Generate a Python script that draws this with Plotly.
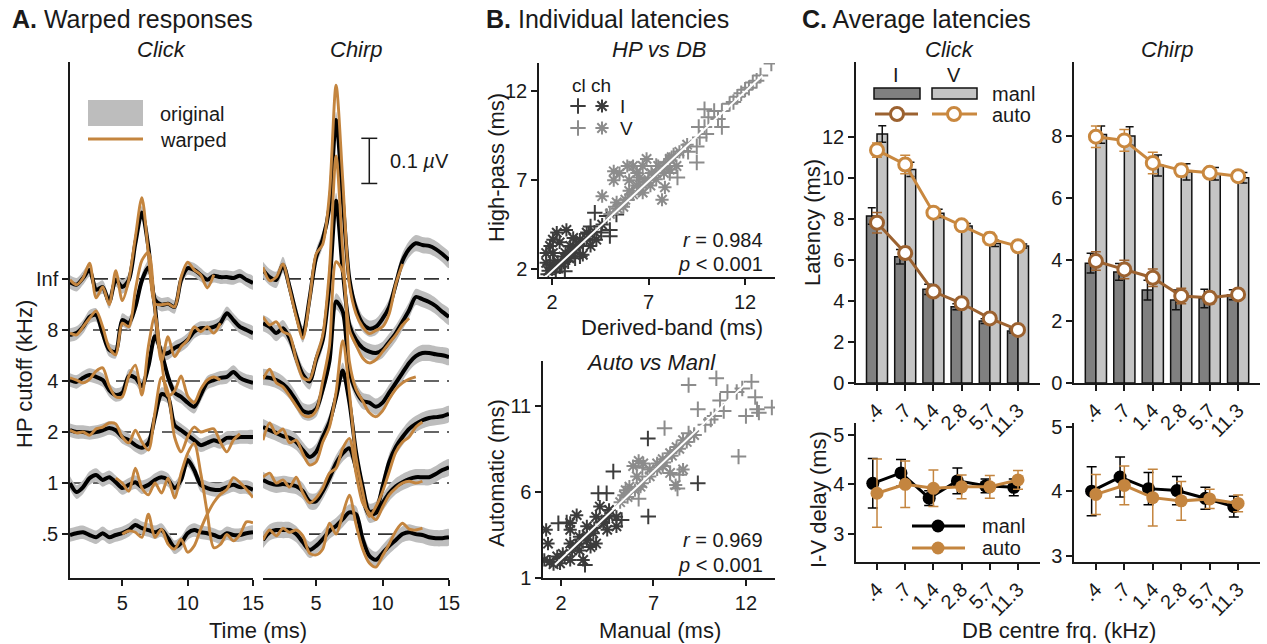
import plotly.graph_objects as go

W, H = 1267, 644
FONT = "Liberation Sans, Arial, Helvetica, sans-serif"
INK = "#1a1a1a"
ORANGE = "#c4853f"
BAND = "#bdbdbd"
DARK = "#3c3c3c"
LIGHT = "#8c8c8c"
BAR_I = "#808080"
BAR_V = "#c4c4c4"
AUTO_I = "#9c6230"
AUTO_V = "#c9883f"

# ---------------- Panel A data (amplitudes in nV) ----------------
TIME_MS = [1, 1.5, 2, 2.5, 3, 3.5, 4, 4.5, 5, 5.5, 6, 6.5, 7, 7.5, 8, 8.5,
           9, 9.5, 10, 10.5, 11, 11.5, 12, 12.5, 13, 13.5, 14, 14.5, 15]
HP_LEVELS = [".5", "1", "2", "4", "8", "Inf"]
NV_PER_LEVEL = 113.0
SCALE_BAR_NV = 100
CLICK_SEM_NV = 15
CHIRP_SEM_NV = 18

CLICK_INF_ORIG = [-7, -13, 2, 20, -24, -18, -51, -2, -18, -2, 79, 147, 70, -46, -57, -55, -62, -2, 24, 20, 9, -2, 7, 4, 4, 2, 7, -2, -9]
CLICK_INF_WARP = [-2, -13, 2, 35, -42, -18, -57, 18, -48, -2, 92, 180, 55, -55, -57, -55, -62, 4, 37, 20, 9, -20, 9]
CLICK_8_ORIG = [-11, -7, 7, 29, 33, -7, -44, -48, 22, 15, 51, 110, 139, 51, -51, -51, -40, -33, -22, -4, 4, 4, 7, 15, 37, 22, 7, 0, -7]
CLICK_8_WARP = [-7, -11, 7, 26, 42, 7, -40, -55, 15, 7, 88, 154, 172, 44, -70, -15, -59, -37, -22, 7, -4, 7, -7, 15]
CLICK_4_ORIG = [2, -2, 7, 13, 9, 2, -20, -31, -26, 11, 7, -11, 33, 99, 62, 9, -26, -35, -48, -57, -31, -4, 2, 7, 9, 20, 7, 0, -4]
CLICK_4_WARP = [7, 2, -4, 4, 22, 29, -11, -35, -35, 11, 35, -31, 77, 145, 44, -33, -22, 11, -33, -48, -18, 2, 9, 2]
CLICK_2_ORIG = [4, 0, 0, -2, 0, 4, 9, 4, -11, -18, -29, -35, -24, 33, 84, 77, 15, 4, -7, -18, -29, -24, -18, -22, -13, -13, -11, -11, -11]
CLICK_2_WARP = [4, -2, 0, -7, 7, 11, 20, 18, -11, -24, 4, -22, -40, 44, 121, 88, -11, -44, -11, 11, 0, 4, 7, -22, -44, -18, -4]
CLICK_1_ORIG = [0, -20, -9, 11, 18, 7, 13, 2, -11, -4, 2, -9, -4, 7, 13, 7, -11, 7, 51, 29, -4, -11, -15, -15, -9, -4, -9, -9, -15]
CLICK_1_WARP = [None] * 7 + [11, 0, -18, 33, -11, -26, 0, -22, 11, -33, 22, 66, 88, 22, -66, -143, -136, -114, -128, -114, -86, -88]
CLICK_05_ORIG = [-2, 2, 4, -2, -7, 2, -7, -2, 2, 9, 20, 13, 9, 4, 9, -9, -29, -20, 2, 9, 4, 2, -2, -7, 2, -2, -2, 2, 4]
CLICK_05_WARP = [None] * 8 + [0, 7, 4, -7, 44, -7, 11, -22, -33, -11, -40, -26, 11, 44, 70, 88, 99, 125, 114, 99, 81]

CHIRP_INF_ORIG = [20, 4, -2, 31, -18, -77, -123, -44, 48, 88, 158, 352, 176, 0, -66, -99, -110, -106, -88, -62, -11, 40, 66, 79, 75, 73, 66, 55, 42]
CHIRP_INF_WARP = [26, -4, 4, 33, -22, -84, -132, -48, 55, 77, 187, 429, 220, -11, -77, -106, -121, -114, -106, -77, -11, 33]
CHIRP_8_ORIG = [15, 7, -7, 4, -18, -62, -99, -114, -66, -22, 99, 286, 132, 11, -22, -40, -48, -51, -44, -26, -7, 18, 44, 73, 68, 62, 53, 40, 29]
CHIRP_8_WARP = [29, 11, 18, -4, -11, -66, -106, -110, -62, -11, 132, 385, 176, 0, -33, -62, -73, -66, -48, -29, -11, 11, 26]
CHIRP_4_ORIG = [9, 7, 2, -7, -22, -44, -66, -70, -62, -18, 44, 176, 154, 22, -22, -44, -48, -57, -48, -26, -4, 18, 40, 55, 62, 62, 59, 57, 53]
CHIRP_4_WARP = [4, 26, -4, -13, -33, -55, -75, -79, -66, 0, 77, 264, 242, 44, -18, -44, -70, -79, -66, -40, -18, -4, 4, 9]
CHIRP_2_ORIG = [11, 4, -2, -9, -13, -22, -40, -55, -44, -11, 22, 77, 136, 66, -44, -121, -176, -172, -121, -66, -33, -11, 7, 18, 26, 31, 33, 35, 40]
CHIRP_2_WARP = [-18, 20, -4, 7, -24, -18, -48, -73, -66, -22, 11, 88, 202, 88, -55, -132, -187, -165, -132, -88, -44, -22, -11, 11, 22]
CHIRP_1_ORIG = [7, 0, -4, -2, -4, -7, -18, -40, -40, -18, 11, 44, 66, 77, 33, -33, -70, -66, -44, -22, -7, 2, 9, 13, 13, 13, 20, 29, 35]
CHIRP_1_WARP = [13, 22, 0, 7, -9, 13, -22, -44, -33, -11, 22, 33, 77, 99, 22, -44, -66, -81, -53, -26, -11, 0, 4, 0, 4]
CHIRP_05_ORIG = [-13, 4, 9, 9, 9, 0, -18, -35, -26, -11, 7, 18, 33, 48, 44, -11, -48, -57, -42, -26, -13, 0, 4, 0, -2, -7, -9, -9, -7]
CHIRP_05_WARP = [-13, 9, -4, 13, 4, 9, -4, -42, -46, -33, 24, 0, 44, 86, 22, -33, -64, -73, -48, -22, 7, 24, 11, 9, 13]

# ---------------- Panel B data (ms) ----------------
HPDB_I_CLICK = [(4.22, 5.17), (5.0, 4.2), (5.0, 3.85), (4.83, 4.98), (5.34, 5.07), (2.41, 2.15), (2.84, 2.43),
                (1.9, 2.25), (2.67, 1.87), (3.45, 2.72), (3.6, 3.3), (4.1, 3.65), (4.55, 4.05), (3.9, 4.0),
                (2.2, 1.8), (3.2, 2.6), (2.6, 2.4), (4.0, 4.4), (1.8, 1.7), (2.1, 2.5)]
HPDB_I_CHIRP = [(2.25, 4.05), (2.75, 4.2), (3.1, 3.75), (1.9, 3.3), (1.7, 2.9), (2.05, 2.9), (2.4, 3.5), (2.95, 3.3),
                (3.45, 3.65), (3.8, 4.05), (2.6, 2.7), (3.1, 2.9), (3.6, 2.8), (4.0, 3.3), (1.7, 2.35), (2.25, 2.15),
                (4.3, 3.65), (3.25, 3.2), (2.05, 3.65), (2.0, 2.0), (2.3, 2.4), (2.7, 2.9), (3.0, 3.0), (3.4, 3.4),
                (3.8, 3.7), (4.2, 4.1), (4.6, 4.5), (1.8, 1.9), (2.5, 2.3), (2.9, 2.6)]
HPDB_V_CLICK = [(13.36, 13.57), (9.9, 11.0), (10.1, 10.55), (10.4, 10.9), (10.6, 10.45), (10.8, 10.0), (9.9, 10.0),
                (9.6, 10.0), (10.0, 9.6), (9.65, 9.4), (9.5, 8.9), (9.05, 8.6), (9.5, 8.0), (8.5, 7.15), (8.1, 7.4),
                (8.8, 8.65), (8.3, 8.4), (7.9, 8.0), (7.4, 7.8), (10.8, 10.9), (11.2, 11.3), (11.6, 11.7),
                (12.0, 12.1), (12.4, 12.5), (12.8, 12.9), (11.4, 11.4), (11.8, 11.9), (12.2, 12.2), (12.6, 12.6),
                (5.3, 5.5), (5.9, 5.9), (6.5, 6.6), (7.0, 7.1)]
HPDB_V_CHIRP = [(5.2, 7.5), (5.5, 7.4), (5.2, 7.0), (4.6, 6.1), (5.9, 7.8), (6.2, 7.8), (6.7, 7.8), (6.4, 7.4),
                (6.0, 7.0), (6.4, 6.7), (6.7, 6.3), (7.1, 6.7), (7.4, 7.05), (7.8, 7.4), (8.1, 7.6), (7.7, 5.9),
                (7.85, 6.6), (5.7, 5.5), (5.35, 5.75), (6.55, 7.15), (7.15, 7.4), (7.5, 7.8), (6.9, 8.2), (8.1, 8.2),
                (8.45, 7.8), (5.0, 5.1), (5.4, 5.4), (5.8, 5.9), (6.2, 6.2), (6.6, 6.6), (7.0, 7.0), (7.4, 7.4),
                (7.8, 7.8), (8.2, 8.3), (8.6, 8.6), (9.0, 9.0), (6.0, 6.4), (6.8, 6.9)]
HPDB_FIT = (1.01, -0.13, 1.64, 12.9)   # slope, intercept, x from, x to
HPDB_STATS = ("0.984", "0.001")

AM_I_CLICK = [(2.31, 4.22), (1.86, 4.18), (4.02, 5.92), (4.47, 5.92), (4.83, 7.18), (3.3, 1.76), (5.28, 4.37),
              (6.72, 4.57), (6.7, 9.1), (9.4, 6.5)]
AM_I_CHIRP = [(1.2, 3.8), (1.3, 3.0), (1.1, 2.05), (1.4, 1.95), (1.95, 1.85), (2.5, 2.05), (2.1, 2.4), (2.5, 4.2),
              (2.85, 4.65), (2.5, 3.8), (3.0, 3.4), (3.4, 4.0), (3.75, 3.6), (3.9, 4.55), (4.3, 4.2), (3.6, 2.8),
              (3.9, 3.0), (3.0, 2.6), (2.5, 3.0), (3.4, 3.2), (4.6, 4.95), (5.0, 4.0), (5.0, 4.55), (4.1, 5.15),
              (3.2, 2.05), (1.8, 2.25), (4.5, 3.8), (2.2, 2.2), (2.6, 2.6), (3.0, 3.0), (3.4, 3.5), (3.8, 3.9),
              (4.2, 4.3), (4.6, 4.6), (1.6, 1.8), (2.8, 2.9)]
AM_V_CLICK = [(6.2, 5.6), (6.4, 7.4), (7.6, 9.7), (8.9, 12.2), (10.4, 12.6), (9.4, 10.8), (8.9, 9.4), (8.3, 6.2),
              (8.4, 7.0), (11.6, 8.05), (12.0, 10.4), (12.6, 10.8), (12.5, 11.5), (13.4, 10.9), (12.7, 10.6),
              (11.0, 11.8), (10.6, 11.3), (10.8, 10.7), (11.5, 11.8), (10.1, 10.2), (7.9, 7.1), (12.3, 12.4),
              (11.8, 12.0), (9.8, 9.9), (10.3, 10.4), (9.2, 9.3)]
AM_V_CHIRP = [(5.4, 5.8), (5.7, 6.3), (6.1, 6.9), (5.9, 7.5), (6.45, 7.65), (6.8, 7.3), (7.2, 7.65), (7.5, 7.9),
              (7.9, 8.25), (8.25, 8.6), (8.6, 9.0), (7.9, 7.1), (8.2, 6.4), (8.6, 7.3), (6.2, 7.8), (6.3, 6.3),
              (5.5, 6.1), (7.5, 7.5), (5.2, 5.4), (5.6, 5.7), (6.0, 6.1), (6.4, 6.5), (6.8, 6.9), (7.2, 7.3),
              (7.6, 7.7), (8.0, 8.1), (8.4, 8.5), (8.8, 8.9), (9.2, 9.3)]
AM_FIT = (1.02, 0.05, 1.68, 12.04)
AM_STATS = ("0.969", "0.001")

# ---------------- Panel C data (ms) ----------------
DB_FREQ_LABELS = [".4", ".7", "1.4", "2.8", "5.7", "11.3"]
BAND_IDX = [0, 1, 2, 3, 4, 5]
CLICK_MANL_I = [8.15, 6.16, 4.57, 3.72, 3.02, 2.54]
CLICK_MANL_I_ERR = [0.4, 0.35, 0.25, 0.15, 0.12, 0.1]
CLICK_MANL_V = [12.15, 10.42, 8.28, 7.66, 6.81, 6.68]
CLICK_MANL_V_ERR = [0.4, 0.35, 0.2, 0.12, 0.15, 0.1]
CLICK_AUTO_I = [7.82, 6.34, 4.46, 3.89, 3.15, 2.59]
CLICK_AUTO_I_ERR = [0.5, 0.3, 0.15, 0.12, 0.12, 0.08]
CLICK_AUTO_V = [11.36, 10.66, 8.31, 7.69, 7.04, 6.67]
CLICK_AUTO_V_ERR = [0.35, 0.45, 0.2, 0.12, 0.3, 0.1]
CHIRP_MANL_I = [3.88, 3.6, 3.01, 2.69, 2.74, 2.86]
CHIRP_MANL_I_ERR = [0.32, 0.27, 0.32, 0.32, 0.3, 0.16]
CHIRP_MANL_V = [8.05, 8.0, 7.05, 6.84, 6.78, 6.65]
CHIRP_MANL_V_ERR = [0.28, 0.3, 0.34, 0.26, 0.2, 0.17]
CHIRP_AUTO_I = [3.95, 3.68, 3.41, 2.82, 2.76, 2.87]
CHIRP_AUTO_I_ERR = [0.3, 0.3, 0.28, 0.25, 0.2, 0.1]
CHIRP_AUTO_V = [7.98, 7.86, 7.13, 6.89, 6.81, 6.7]
CHIRP_AUTO_V_ERR = [0.35, 0.35, 0.35, 0.2, 0.15, 0.1]
CLICK_DELAY_MANL = [4.02, 4.23, 3.72, 4.07, 3.97, 3.94]
CLICK_DELAY_MANL_ERR = [0.5, 0.27, 0.15, 0.26, 0.14, 0.17]
CLICK_DELAY_AUTO = [3.82, 4.0, 3.92, 3.95, 3.95, 4.09]
CLICK_DELAY_AUTO_ERR = [0.69, 0.47, 0.37, 0.24, 0.23, 0.19]
CHIRP_DELAY_MANL = [4.0, 4.22, 4.04, 4.01, 3.89, 3.76]
CHIRP_DELAY_MANL_ERR = [0.38, 0.31, 0.25, 0.22, 0.17, 0.16]
CHIRP_DELAY_AUTO = [3.95, 4.09, 3.9, 3.85, 3.88, 3.81]
CHIRP_DELAY_AUTO_ERR = [0.31, 0.3, 0.44, 0.3, 0.15, 0.13]
MANL_SHIFT = -0.15

fig = go.Figure()
N = len(TIME_MS)
G = 1.0 / NV_PER_LEVEL


def pad(a):
    a = list(a)[:N]
    return a + [None] * (N - len(a))


def add_waves(origs, warps, sem, xa, ya):
    for lvl, o in enumerate(origs):
        o = pad(o)
        up = [lvl + (v + sem) * G for v in o]
        lo = [lvl + (v - sem) * G for v in o]
        fig.add_trace(go.Scatter(x=TIME_MS + TIME_MS[::-1], y=up + lo[::-1], mode="lines",
                                 fill="toself", fillcolor=BAND, line=dict(width=0, shape="spline", smoothing=0.8),
                                 xaxis=xa, yaxis=ya, hoverinfo="skip"))
    for lvl, o in enumerate(origs):
        fig.add_trace(go.Scatter(x=TIME_MS, y=[lvl + v * G for v in pad(o)], mode="lines",
                                 line=dict(color="black", width=4, shape="spline", smoothing=0.8),
                                 xaxis=xa, yaxis=ya, hoverinfo="skip"))
    for lvl, w in enumerate(warps):
        fig.add_trace(go.Scatter(x=TIME_MS, y=[None if v is None else lvl + v * G for v in pad(w)],
                                 mode="lines", connectgaps=False,
                                 line=dict(color=ORANGE, width=2.9, shape="spline", smoothing=0.8),
                                 xaxis=xa, yaxis=ya, hoverinfo="skip"))


add_waves([CLICK_05_ORIG, CLICK_1_ORIG, CLICK_2_ORIG, CLICK_4_ORIG, CLICK_8_ORIG, CLICK_INF_ORIG],
          [CLICK_05_WARP, CLICK_1_WARP, CLICK_2_WARP, CLICK_4_WARP, CLICK_8_WARP, CLICK_INF_WARP],
          CLICK_SEM_NV, "x", "y")
add_waves([CHIRP_05_ORIG, CHIRP_1_ORIG, CHIRP_2_ORIG, CHIRP_4_ORIG, CHIRP_8_ORIG, CHIRP_INF_ORIG],
          [CHIRP_05_WARP, CHIRP_1_WARP, CHIRP_2_WARP, CHIRP_4_WARP, CHIRP_8_WARP, CHIRP_INF_WARP],
          CHIRP_SEM_NV, "x2", "y2")

shapes = []
for xa, ya in (("x", "y"), ("x2", "y2")):
    for lvl in range(len(HP_LEVELS)):
        shapes.append(dict(type="line", xref=xa, yref=ya, x0=TIME_MS[0], x1=TIME_MS[-1], y0=lvl, y1=lvl,
                           line=dict(color="#333333", width=1.6, dash="15px,8px"), layer="below"))

# scale bar (chirp axis)
sb_x, sb_y0 = 9.0, 6.87
sb_y1 = sb_y0 + SCALE_BAR_NV * G
shapes += [
    dict(type="line", xref="x2", yref="y2", x0=sb_x, x1=sb_x, y0=sb_y0, y1=sb_y1, line=dict(color=INK, width=1.5)),
    dict(type="line", xref="x2", yref="y2", x0=sb_x - 0.6, x1=sb_x + 0.6, y0=sb_y0, y1=sb_y0, line=dict(color=INK, width=1.5)),
    dict(type="line", xref="x2", yref="y2", x0=sb_x - 0.6, x1=sb_x + 0.6, y0=sb_y1, y1=sb_y1, line=dict(color=INK, width=1.5)),
]


# ---------------- Panel B ----------------
def scatter_group(pts, color, symbol, xa, ya):
    xs = [p[0] for p in pts]
    ys = [p[1] for p in pts]
    fig.add_trace(go.Scatter(x=xs, y=ys, mode="markers", xaxis=xa, yaxis=ya, hoverinfo="skip",
                             marker=dict(symbol=symbol, size=11, color=color,
                                         line=dict(color=color, width=2))))


def fit_line(fit, xa, ya):
    a, b, x0, x1 = fit
    fig.add_trace(go.Scatter(x=[x0, x1], y=[a * x0 + b, a * x1 + b], mode="lines", xaxis=xa, yaxis=ya,
                             line=dict(color="white", width=2), hoverinfo="skip"))


scatter_group(HPDB_I_CLICK, DARK, "cross-thin", "x3", "y3")
scatter_group(HPDB_I_CHIRP, DARK, "asterisk", "x3", "y3")
scatter_group(HPDB_V_CLICK, LIGHT, "cross-thin", "x3", "y3")
scatter_group(HPDB_V_CHIRP, LIGHT, "asterisk", "x3", "y3")
fit_line(HPDB_FIT, "x3", "y3")
scatter_group(AM_I_CLICK, DARK, "cross-thin", "x4", "y4")
scatter_group(AM_I_CHIRP, DARK, "asterisk", "x4", "y4")
scatter_group(AM_V_CLICK, LIGHT, "cross-thin", "x4", "y4")
scatter_group(AM_V_CHIRP, LIGHT, "asterisk", "x4", "y4")
fit_line(AM_FIT, "x4", "y4")


# ---------------- Panel C ----------------
def bars(vals, errs, color, group, xa, ya):
    fig.add_trace(go.Bar(x=BAND_IDX, y=vals, offsetgroup=group, xaxis=xa, yaxis=ya, hoverinfo="skip",
                         marker=dict(color=color, line=dict(color="#111111", width=1.5)),
                         error_y=dict(type="data", array=errs, color="#111111", thickness=1.5, width=4)))


def auto_line(vals, errs, color, xa, ya):
    fig.add_trace(go.Scatter(x=BAND_IDX, y=vals, mode="lines+markers", xaxis=xa, yaxis=ya, hoverinfo="skip",
                             line=dict(color=color, width=3),
                             marker=dict(symbol="circle", size=13, color="white", line=dict(color=color, width=3)),
                             error_y=dict(type="data", array=errs, color=color, thickness=1.5, width=5)))


def delay_line(xs, vals, errs, color, xa, ya):
    fig.add_trace(go.Scatter(x=xs, y=vals, mode="lines+markers", xaxis=xa, yaxis=ya, hoverinfo="skip",
                             line=dict(color=color, width=3),
                             marker=dict(symbol="circle", size=13, color=color),
                             error_y=dict(type="data", array=errs, color=color, thickness=1.5, width=5)))


bars(CLICK_MANL_I, CLICK_MANL_I_ERR, BAR_I, "I", "x5", "y5")
bars(CLICK_MANL_V, CLICK_MANL_V_ERR, BAR_V, "V", "x5", "y5")
auto_line(CLICK_AUTO_I, CLICK_AUTO_I_ERR, AUTO_I, "x5", "y5")
auto_line(CLICK_AUTO_V, CLICK_AUTO_V_ERR, AUTO_V, "x5", "y5")
bars(CHIRP_MANL_I, CHIRP_MANL_I_ERR, BAR_I, "I", "x6", "y6")
bars(CHIRP_MANL_V, CHIRP_MANL_V_ERR, BAR_V, "V", "x6", "y6")
auto_line(CHIRP_AUTO_I, CHIRP_AUTO_I_ERR, AUTO_I, "x6", "y6")
auto_line(CHIRP_AUTO_V, CHIRP_AUTO_V_ERR, AUTO_V, "x6", "y6")
shifted = [i + MANL_SHIFT for i in BAND_IDX]
delay_line(shifted, CLICK_DELAY_MANL, CLICK_DELAY_MANL_ERR, "black", "x7", "y7")
delay_line(BAND_IDX, CLICK_DELAY_AUTO, CLICK_DELAY_AUTO_ERR, ORANGE, "x7", "y7")
delay_line(shifted, CHIRP_DELAY_MANL, CHIRP_DELAY_MANL_ERR, "black", "x8", "y8")
delay_line(BAND_IDX, CHIRP_DELAY_AUTO, CHIRP_DELAY_AUTO_ERR, ORANGE, "x8", "y8")

# ---------------- legend glyphs on a pixel overlay ----------------
def ov_line(x0, x1, y, color, width):
    fig.add_trace(go.Scatter(x=[x0, x1], y=[y, y], mode="lines", xaxis="x9", yaxis="y9",
                             line=dict(color=color, width=width), hoverinfo="skip"))


def ov_marker(x, y, symbol, color, fill, size=13, lw=3):
    fig.add_trace(go.Scatter(x=[x], y=[y], mode="markers", xaxis="x9", yaxis="y9", hoverinfo="skip",
                             marker=dict(symbol=symbol, size=size, color=fill, line=dict(color=color, width=lw))))


shapes.append(dict(type="rect", xref="x9", yref="y9", x0=88, x1=143, y0=100, y1=126,
                   fillcolor=BAND, line=dict(width=0), layer="above"))
ov_line(88, 143, 113, "black", 4)
ov_line(88, 143, 139, ORANGE, 3)

shapes.append(dict(type="rect", xref="x9", yref="y9", x0=874, x1=920, y0=88, y1=99,
                   fillcolor=BAR_I, line=dict(color="#111111", width=1.5), layer="above"))
shapes.append(dict(type="rect", xref="x9", yref="y9", x0=932, x1=977, y0=88, y1=99,
                   fillcolor=BAR_V, line=dict(color="#111111", width=1.5), layer="above"))
ov_line(875, 918, 114, AUTO_I, 3)
ov_marker(897, 114, "circle", AUTO_I, "white")
ov_line(932, 977, 114, AUTO_V, 3)
ov_marker(954, 114, "circle", AUTO_V, "white")

ov_line(912, 965, 526, "black", 3)
ov_marker(938, 526, "circle", "black", "black", lw=0)
ov_line(912, 965, 548, ORANGE, 3)
ov_marker(938, 548, "circle", ORANGE, ORANGE, lw=0)

ov_marker(578, 106, "cross-thin", DARK, DARK, size=11, lw=2)
ov_marker(602, 106, "asterisk", DARK, DARK, size=11, lw=2)
ov_marker(578, 128, "cross-thin", LIGHT, LIGHT, size=11, lw=2)
ov_marker(602, 128, "asterisk", LIGHT, LIGHT, size=11, lw=2)

# ---------------- annotations ----------------
ann = []


def txt(x, y, s, size=20, xanchor="center", angle=0, color=INK):
    ann.append(dict(xref="x9", yref="y9", x=x, y=y, text=s, showarrow=False, xanchor=xanchor,
                    yanchor="middle", textangle=angle, font=dict(size=size, color=color, family=FONT)))


txt(10, 19, "<b>A.</b> Warped responses", 25, "left")
txt(484, 19, "<b>B.</b> Individual latencies", 25, "left")
txt(800, 19, "<b>C.</b> Average latencies", 25, "left")
txt(161, 49, "<i>Click</i>", 22)
txt(356, 49, "<i>Chirp</i>", 22)
txt(659, 49, "<i>HP vs DB</i>", 22)
txt(651, 362, "<i>Auto vs Manl</i>", 22)
txt(949, 49, "<i>Click</i>", 22)
txt(1167, 49, "<i>Chirp</i>", 22)
txt(24, 374, "HP cutoff (kHz)", 22, angle=-90)
txt(258, 630, "Time (ms)", 22)
txt(496, 168, "High-pass (ms)", 22, angle=-90)
txt(672, 327, "Derived-band (ms)", 22)
txt(496, 473, "Automatic (ms)", 22, angle=-90)
txt(660, 630, "Manual (ms)", 22)
txt(812, 223, "Latency (ms)", 22, angle=-90)
txt(818, 500, "I-V delay (ms)", 22, angle=-90)
txt(1059, 630, "DB centre frq. (kHz)", 22)
txt(158, 114, "original", 20, "left")
txt(158, 140, "warped", 20, "left")
txt(570, 85, "cl ch", 19, "left")
txt(618, 106, "I", 19, "left")
txt(618, 128, "V", 19, "left")
txt(765, 240, "<i>r</i> = " + HPDB_STATS[0], 20, "right")
txt(765, 264, "<i>p</i> &lt; " + HPDB_STATS[1], 20, "right")
txt(765, 540, "<i>r</i> = " + AM_STATS[0], 20, "right")
txt(765, 565, "<i>p</i> &lt; " + AM_STATS[1], 20, "right")
txt(896, 75, "I", 20)
txt(954, 75, "V", 20)
txt(990, 94, "manl", 20, "left")
txt(990, 115, "auto", 20, "left")
txt(980, 526, "manl", 20, "left")
txt(980, 548, "auto", 20, "left")
ann.append(dict(xref="x2", yref="y2", x=10.4, y=(sb_y0 + sb_y1) / 2, text="0.1 <i>µ</i>V", showarrow=False,
                xanchor="left", yanchor="middle", font=dict(size=20, color=INK, family=FONT)))

# ---------------- axes ----------------
AX = dict(showgrid=False, zeroline=False, showline=True, linecolor=INK, linewidth=1.5, ticks="outside",
          ticklen=6, tickwidth=1.5, tickcolor=INK, tickfont=dict(size=20, color=INK, family=FONT),
          automargin=False, fixedrange=True)


def dom_x(a, b):
    return [a / W, b / W]


def dom_y(top, bottom):
    return [1 - bottom / H, 1 - top / H]


ylev = list(range(len(HP_LEVELS)))
layout_axes = dict(
    xaxis=dict(AX, domain=dom_x(70, 253), range=[1, 15], tickvals=[5, 10, 15], anchor="y"),
    yaxis=dict(AX, domain=dom_y(62, 578), range=[-0.86, 9.25], tickvals=ylev, ticktext=HP_LEVELS, anchor="x"),
    xaxis2=dict(AX, domain=dom_x(263, 449), range=[1, 15], tickvals=[5, 10, 15], anchor="y2"),
    yaxis2=dict(AX, domain=dom_y(62, 578), range=[-0.86, 9.25], showline=False, ticks="",
                showticklabels=False, anchor="x2"),
    xaxis3=dict(AX, domain=dom_x(539, 775), range=[1.33, 13.55], tickvals=[2, 7, 12], anchor="y3"),
    yaxis3=dict(AX, domain=dom_y(63, 277), range=[1.55, 13.6], tickvals=[2, 7, 12], anchor="x3"),
    xaxis4=dict(AX, domain=dom_x(543, 775), range=[1.03, 13.57], tickvals=[2, 7, 12], anchor="y4"),
    yaxis4=dict(AX, domain=dom_y(361, 578), range=[1, 13.6], tickvals=[1, 6, 11], anchor="x4"),
    xaxis5=dict(AX, domain=dom_x(856, 1040), range=[-0.745, 5.78], tickvals=BAND_IDX, ticktext=DB_FREQ_LABELS,
                tickangle=-45, anchor="y5"),
    yaxis5=dict(AX, domain=dom_y(62, 383), range=[0, 15.66], tickvals=[0, 2, 4, 6, 8, 10, 12], anchor="x5"),
    xaxis6=dict(AX, domain=dom_x(1074, 1260), range=[-0.77, 5.77], tickvals=BAND_IDX, ticktext=DB_FREQ_LABELS,
                tickangle=-45, anchor="y6"),
    yaxis6=dict(AX, domain=dom_y(62, 383), range=[0, 10.4], tickvals=[0, 2, 4, 6, 8], anchor="x6"),
    xaxis7=dict(AX, domain=dom_x(856, 1040), range=[-0.745, 5.78], tickvals=BAND_IDX, ticktext=DB_FREQ_LABELS,
                tickangle=-45, anchor="y7"),
    yaxis7=dict(AX, domain=dom_y(423, 562), range=[2.43, 5.24], tickvals=[3, 4, 5], anchor="x7"),
    xaxis8=dict(AX, domain=dom_x(1074, 1260), range=[-0.77, 5.77], tickvals=BAND_IDX, ticktext=DB_FREQ_LABELS,
                tickangle=-45, anchor="y8"),
    yaxis8=dict(AX, domain=dom_y(423, 562), range=[2.9, 5.06], tickvals=[3, 4, 5], anchor="x8"),
    xaxis9=dict(domain=[0, 1], range=[0, W], visible=False, fixedrange=True, anchor="y9"),
    yaxis9=dict(domain=[0, 1], range=[H, 0], visible=False, fixedrange=True, anchor="x9"),
)

fig.update_layout(
    width=W, height=H, margin=dict(l=0, r=0, t=0, b=0),
    paper_bgcolor="white", plot_bgcolor="rgba(0,0,0,0)",
    showlegend=False, font=dict(family=FONT, size=20, color=INK),
    barmode="group", bargap=0.255, bargroupgap=0,
    shapes=shapes, annotations=ann, **layout_axes,
)

fig.write_html("out.html", config={"displayModeBar": False},
               post_script="document.body.style.margin='0px';document.body.style.overflow='hidden';")
